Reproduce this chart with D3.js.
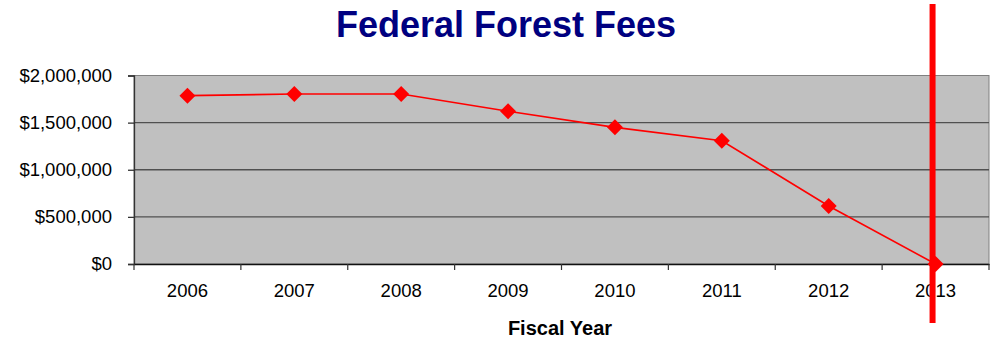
<!DOCTYPE html>
<html>
<head>
<meta charset="utf-8">
<script src="https://cdn.jsdelivr.net/npm/d3@7"></script>
<style>
html,body{margin:0;padding:0;background:#fff;}
svg{display:block;}
text{font-family:Arial,"Liberation Sans",sans-serif;}
</style>
</head>
<body>
<svg id="chart" width="990" height="338"></svg>
<script>
const title = "Federal Forest Fees";
const xTitle = "Fiscal Year";
const years = ["2006","2007","2008","2009","2010","2011","2012","2013"];
const fees = [1786000, 1804000, 1804000, 1620000, 1450000, 1308000, 615000, 0];
const yTicks = [0, 500000, 1000000, 1500000, 2000000];
const markerYear = "2013";

(function () {
const svg = d3.select("#chart");
const pLeft = 134, pRight = 989, pTop = 75.5, pBottom = 264;

const x = d3.scaleBand().domain(years).range([pLeft, pRight]);
const y = d3.scaleLinear().domain([0, 2000000]).range([pBottom, pTop]);
const fmt = v => "$" + d3.format(",")(v);

// plot background
svg.append("rect").attr("x", pLeft).attr("y", pTop)
  .attr("width", pRight - pLeft).attr("height", pBottom - pTop)
  .attr("fill", "#c0c0c0").attr("stroke", "#808080").attr("stroke-width", 1);

// gridlines
svg.append("g").selectAll("line").data(yTicks.filter(d => d > 0 && d < 2000000)).join("line")
  .attr("x1", pLeft).attr("x2", pRight)
  .attr("y1", d => y(d)).attr("y2", d => y(d))
  .attr("stroke", "#505050").attr("stroke-width", 1.3);

// y axis
const yAxis = svg.append("g").attr("transform", `translate(${pLeft},0)`)
  .call(d3.axisLeft(y).tickValues(yTicks).tickFormat(fmt).tickSize(6).tickPadding(16));
yAxis.select(".domain").attr("stroke", "#333").attr("stroke-width", 1.3);
yAxis.selectAll(".tick line").attr("stroke", "#333").attr("stroke-width", 1.3);
yAxis.selectAll("text").attr("font-size", 18.5).attr("fill", "#000")
  .attr("font-family", "Arial, 'Liberation Sans', sans-serif");

// x axis
const xAxis = svg.append("g").attr("transform", `translate(0,${pBottom})`)
  .call(d3.axisBottom(x).tickSize(0).tickPadding(20));
xAxis.select(".domain").attr("stroke", "#111").attr("stroke-width", 1.3);
xAxis.selectAll("text").attr("font-size", 18.5).attr("fill", "#000")
  .attr("font-family", "Arial, 'Liberation Sans', sans-serif");
// category boundary ticks
const bounds = years.map(d => x(d)).concat([x(years[years.length - 1]) + x.bandwidth()]);
svg.append("g").selectAll("line").data(bounds).join("line")
  .attr("x1", d => d).attr("x2", d => d)
  .attr("y1", pBottom).attr("y2", pBottom + 6)
  .attr("stroke", "#333").attr("stroke-width", 1.2);

// series line
const cx = d => x(d) + x.bandwidth() / 2;
const pts = years.map((yr, i) => [cx(yr), y(fees[i])]);
svg.append("path").datum(pts)
  .attr("d", d3.line())
  .attr("fill", "none").attr("stroke", "#ff0000").attr("stroke-width", 1.6);

// diamond markers
const r = 8;
svg.append("g").selectAll("path").data(pts).join("path")
  .attr("d", d => `M${d[0]},${d[1]-r}L${d[0]+r},${d[1]}L${d[0]},${d[1]+r}L${d[0]-r},${d[1]}Z`)
  .attr("fill", "#ff0000");

// vertical red marker line
const vx = cx(markerYear) - 3;
svg.append("line").attr("x1", vx).attr("x2", vx).attr("y1", 4).attr("y2", 323)
  .attr("stroke", "#ff0000").attr("stroke-width", 6);

// title
svg.append("text").attr("x", 506).attr("y", 37).attr("text-anchor", "middle")
  .attr("font-size", 36).attr("font-weight", "bold").attr("fill", "#000080").text(title);

// x axis title
svg.append("text").attr("x", 560).attr("y", 335).attr("text-anchor", "middle")
  .attr("font-size", 20).attr("font-weight", "bold").attr("fill", "#000").text(xTitle);
})();
</script>
</body>
</html>
